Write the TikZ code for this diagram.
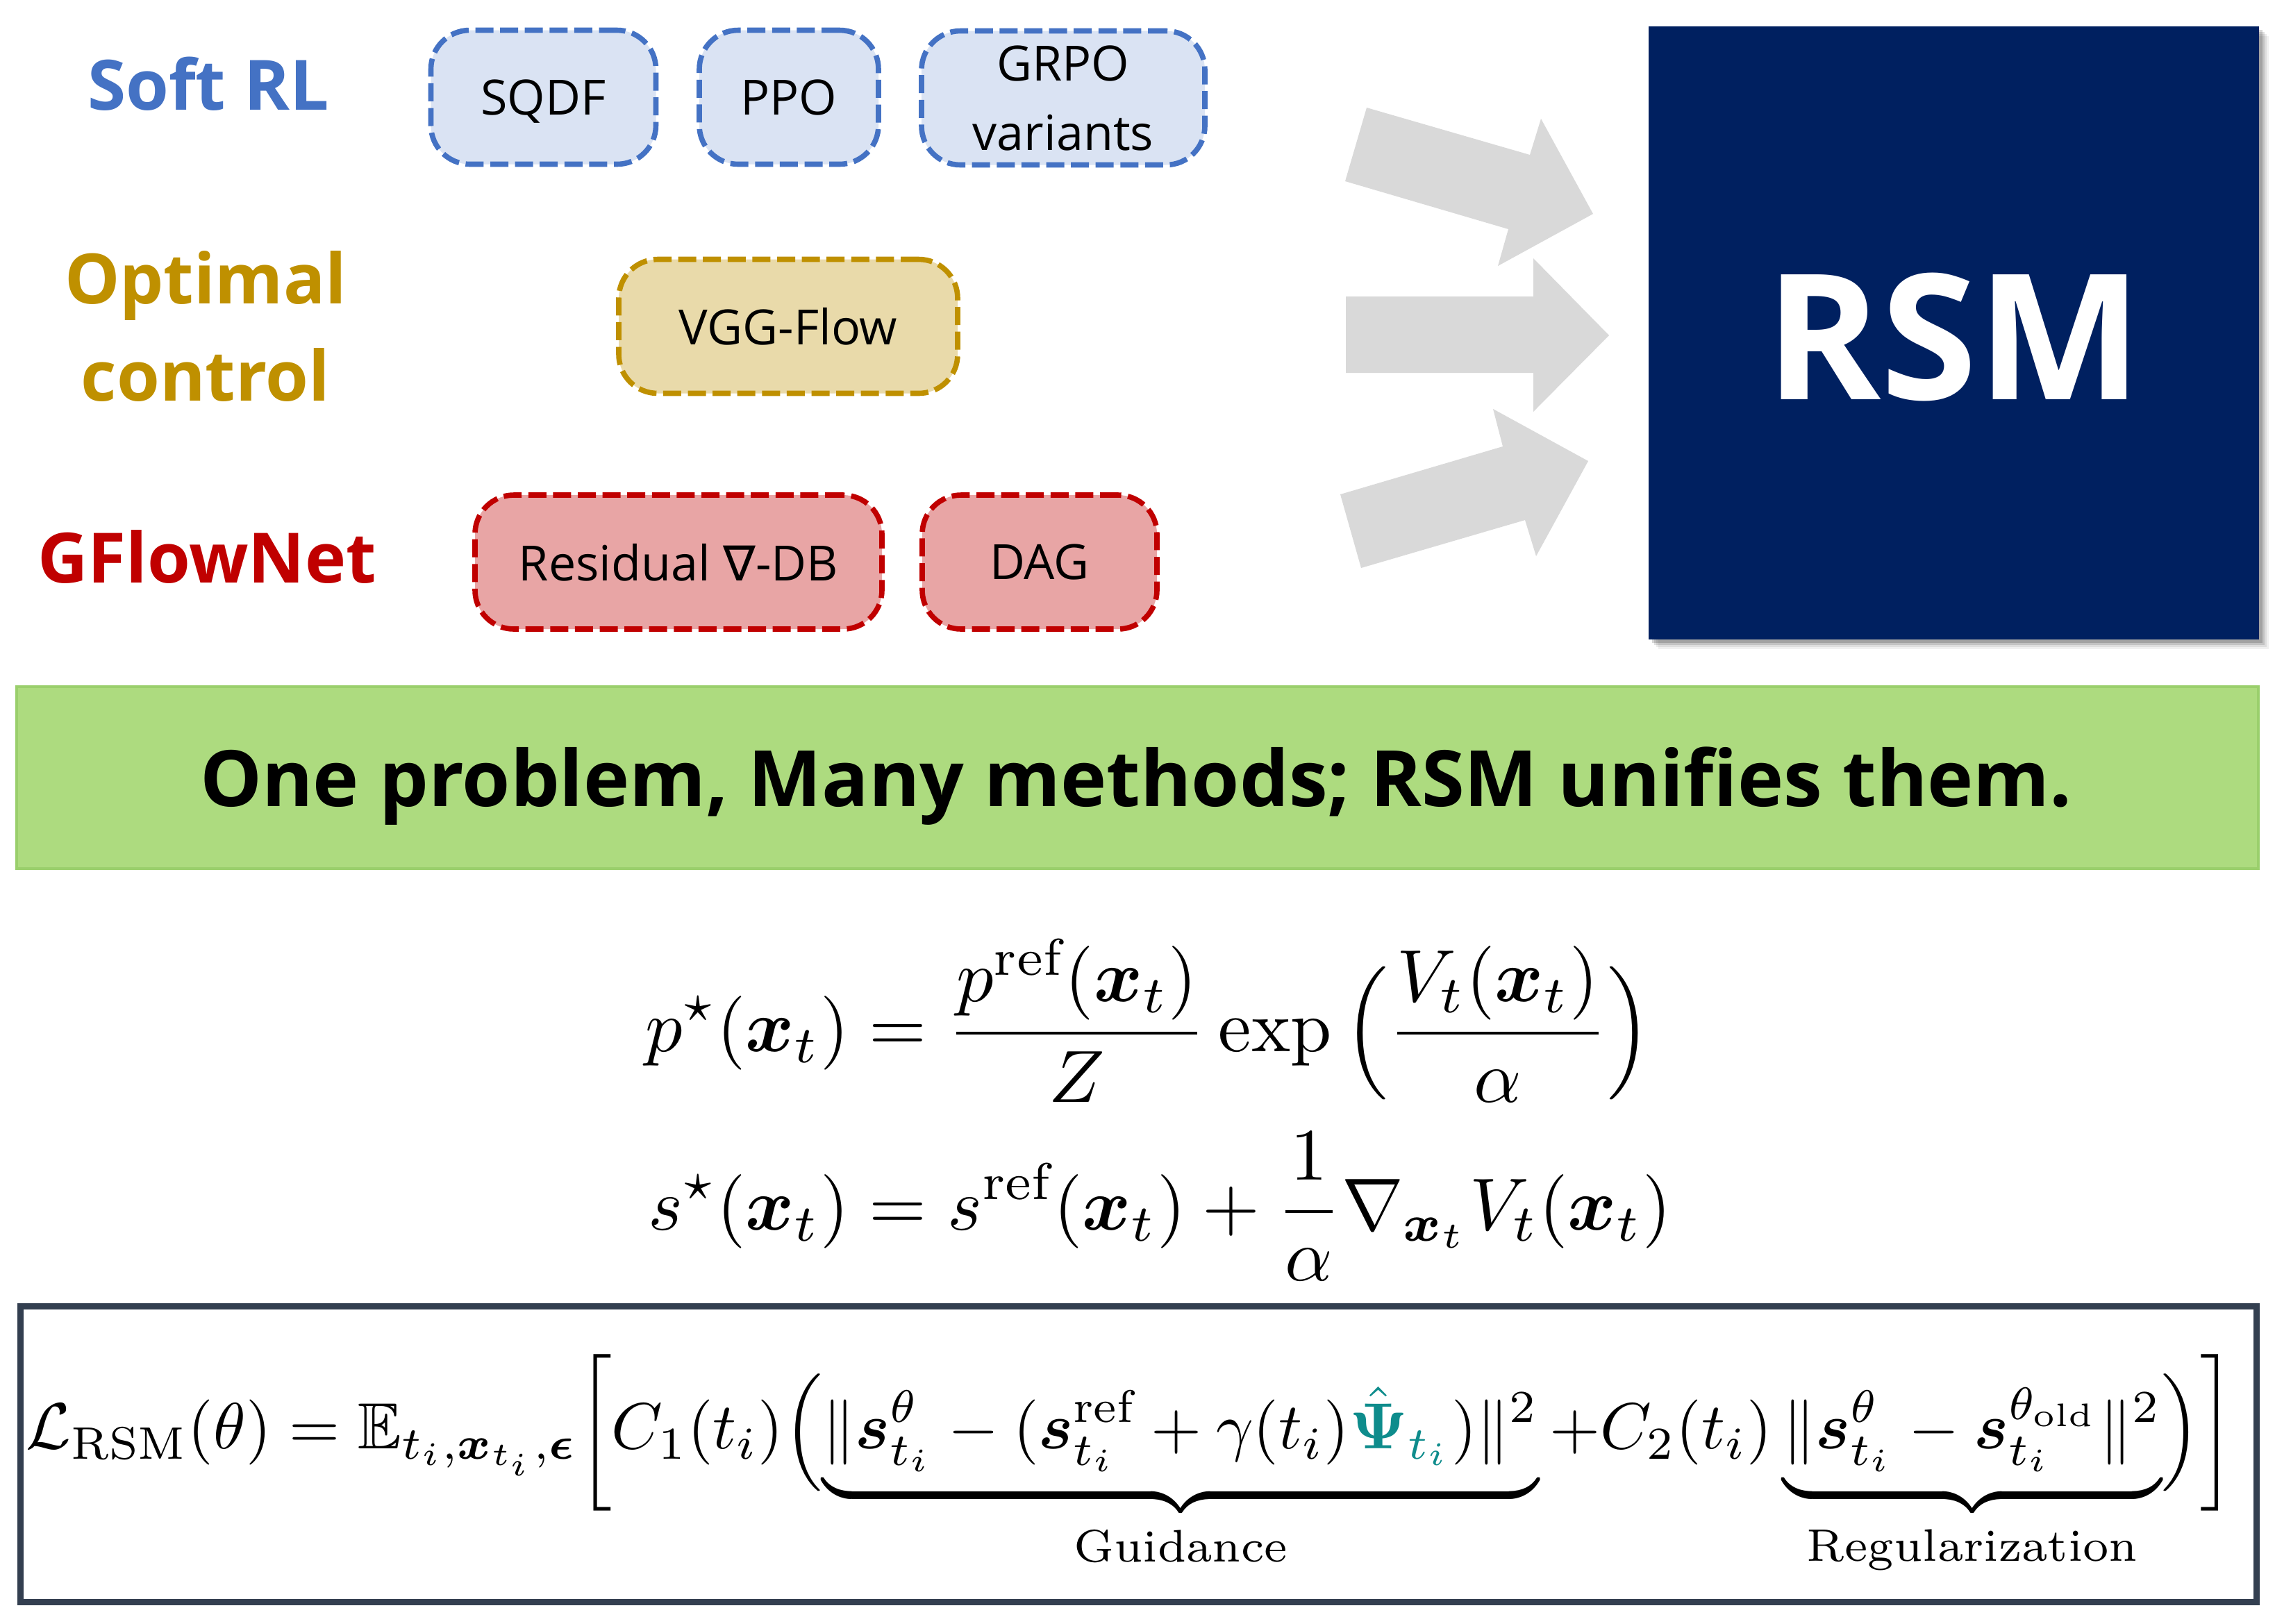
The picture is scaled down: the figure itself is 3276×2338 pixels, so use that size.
\documentclass[tikz,border=0pt]{standalone}
\usepackage{amsmath,amssymb,bm}
\usepackage{graphicx}
\usepackage{fontspec}
\newfontfamily\osans{Open Sans}
\newfontfamily\dvsans{DejaVu Sans}
\definecolor{blueC}{HTML}{4472C4}
\definecolor{blueF}{HTML}{DAE3F3}
\definecolor{goldC}{HTML}{BF9000}
\definecolor{goldF}{HTML}{E9DAAA}
\definecolor{redC}{HTML}{C00000}
\definecolor{redF}{HTML}{E8A5A5}
\definecolor{navyC}{HTML}{002060}
\definecolor{arrowC}{HTML}{D9D9D9}
\definecolor{greenF}{HTML}{ADDB7F}
\definecolor{greenC}{HTML}{9ACF6C}
\definecolor{frameC}{HTML}{333F50}
\definecolor{psiteal}{HTML}{0E8C8C}
\tikzset{
  methodbox/.style={rounded corners=14pt, line width=1.9pt, dash pattern=on 6.5pt off 2.4pt,
     font=\osans\fontsize{17.5}{25}\selectfont, align=center, inner sep=0pt, text depth=0pt},
  softbox/.style={methodbox, draw=blueC, fill=blueF},
  goldbox/.style={methodbox, draw=goldC, fill=goldF},
  redbox/.style={methodbox, draw=redC, fill=redF},
  grouplabel/.style={font=\osans\bfseries\fontsize{25}{35}\selectfont, align=center, inner sep=0pt},
  fatarrow/.style={fill=arrowC, draw=none}
}
\begin{document}
\begin{tikzpicture}[x=0.25pt,y=-0.25pt]
\useasboundingbox (0,0) rectangle (3276,2338);
\fill[white] (0,0) rectangle (3276,2338);

% group labels
\node[grouplabel, text=blueC] (softrl) at (300,121) {Soft RL};
\node[grouplabel, text=goldC] (optctl) at (296,470) {Optimal\\control};
\node[grouplabel, text=redC] (gfn) at (298,802) {GFlowNet};

% method boxes
\node[softbox, minimum width=81pt, minimum height=48.25pt] (sqdf) at (782.5,140) {SQDF};
\node[softbox, minimum width=64.5pt, minimum height=48.25pt] (ppo) at (1136,140) {PPO};
\node[softbox, minimum width=102pt, minimum height=48.25pt] (grpo) at (1531,141) {GRPO\\variants};
\node[goldbox, minimum width=122pt, minimum height=48.25pt] (vgg) at (1135,470) {VGG-Flow};
\node[redbox, minimum width=146.5pt, minimum height=48.25pt] (rdb) at (977,809.5) {Residual {\dvsans ∇}-DB};
\node[redbox, minimum width=84.5pt, minimum height=48.25pt] (dag) at (1497,809.5) {DAG};

% fat arrows
\fill[fatarrow] (1968,155) -- (2203,223) -- (2219,171) -- (2294,308) -- (2157,383) -- (2172,330) -- (1937,261) -- cycle;
\fill[fatarrow] (1938,427) -- (2208,427) -- (2208,372) -- (2317,483) -- (2208,593) -- (2208,537) -- (1938,537) -- cycle;
\fill[fatarrow] (1930,712) -- (2164,643) -- (2150,589) -- (2287,664) -- (2212,801) -- (2196,749) -- (1960,818) -- cycle;

% RSM box with shadow
\foreach \o/\a in {14/0.06,11/0.08,8/0.12,5/0.16}{
  \fill[black, opacity=\a] (2374+\o,38+\o) rectangle (3253+\o,921+\o);
}
\node[fill=navyC, minimum width=219.75pt, minimum height=220.75pt, inner sep=0pt] (rsm) at (2813.5,479.5) {};
\node[text=white, font=\osans\bfseries\fontsize{63}{70}\selectfont, inner sep=0pt] (rsmtxt) at (2814,485) {RSM};

% banner
\node[fill=greenF, draw=greenC, line width=1pt, minimum width=807pt, minimum height=65.5pt, inner sep=0pt] (banner) at (1638,1120) {};
\node[font=\osans\bfseries\fontsize{28}{32}\selectfont, inner sep=0pt] (bannertxt) at (1636,1132) {One problem, Many methods; RSM unifies them.};

% equations
\node[inner sep=0pt] (eqs) at (1668,1598) {\resizebox{369.25pt}{!}{$\displaystyle
\begin{aligned}
p^{\star}(\boldsymbol{x}_t) &= \frac{p^{\mathrm{ref}}(\boldsymbol{x}_t)}{Z}\exp\,\Bigl(\frac{V_t(\boldsymbol{x}_t)}{\alpha}\Bigr)\\
s^{\star}(\boldsymbol{x}_t) &= s^{\mathrm{ref}}(\boldsymbol{x}_t)+\frac{1}{\alpha}\nabla_{\boldsymbol{x}_t}V_t(\boldsymbol{x}_t)
\end{aligned}$}};

% loss box
\draw[frameC, line width=2.25pt] (29,1881.5) rectangle (3249,2307.5);
\node[inner sep=0pt] (loss) at (1628,2111) {\resizebox{795pt}{!}{$\displaystyle
\mathcal{L}_{\mathrm{RSM}}(\theta)=\mathbb{E}_{t_i,\boldsymbol{x}_{t_i},\boldsymbol{\epsilon}}\biggl[C_1(t_i)\Bigl(\underbrace{\|\boldsymbol{s}^{\theta}_{t_i}-(\boldsymbol{s}^{\mathrm{ref}}_{t_i}+\gamma(t_i)\textcolor{psiteal}{\hat{\boldsymbol{\Psi}}_{t_i}})\|^2}_{\text{Guidance}}{+}C_2(t_i)\underbrace{\|\boldsymbol{s}^{\theta}_{t_i}-\boldsymbol{s}^{\theta_{\mathrm{old}}}_{t_i}\|^2}_{\text{Regularization}}\Bigr)\biggr]$}};
\end{tikzpicture}
\end{document}
